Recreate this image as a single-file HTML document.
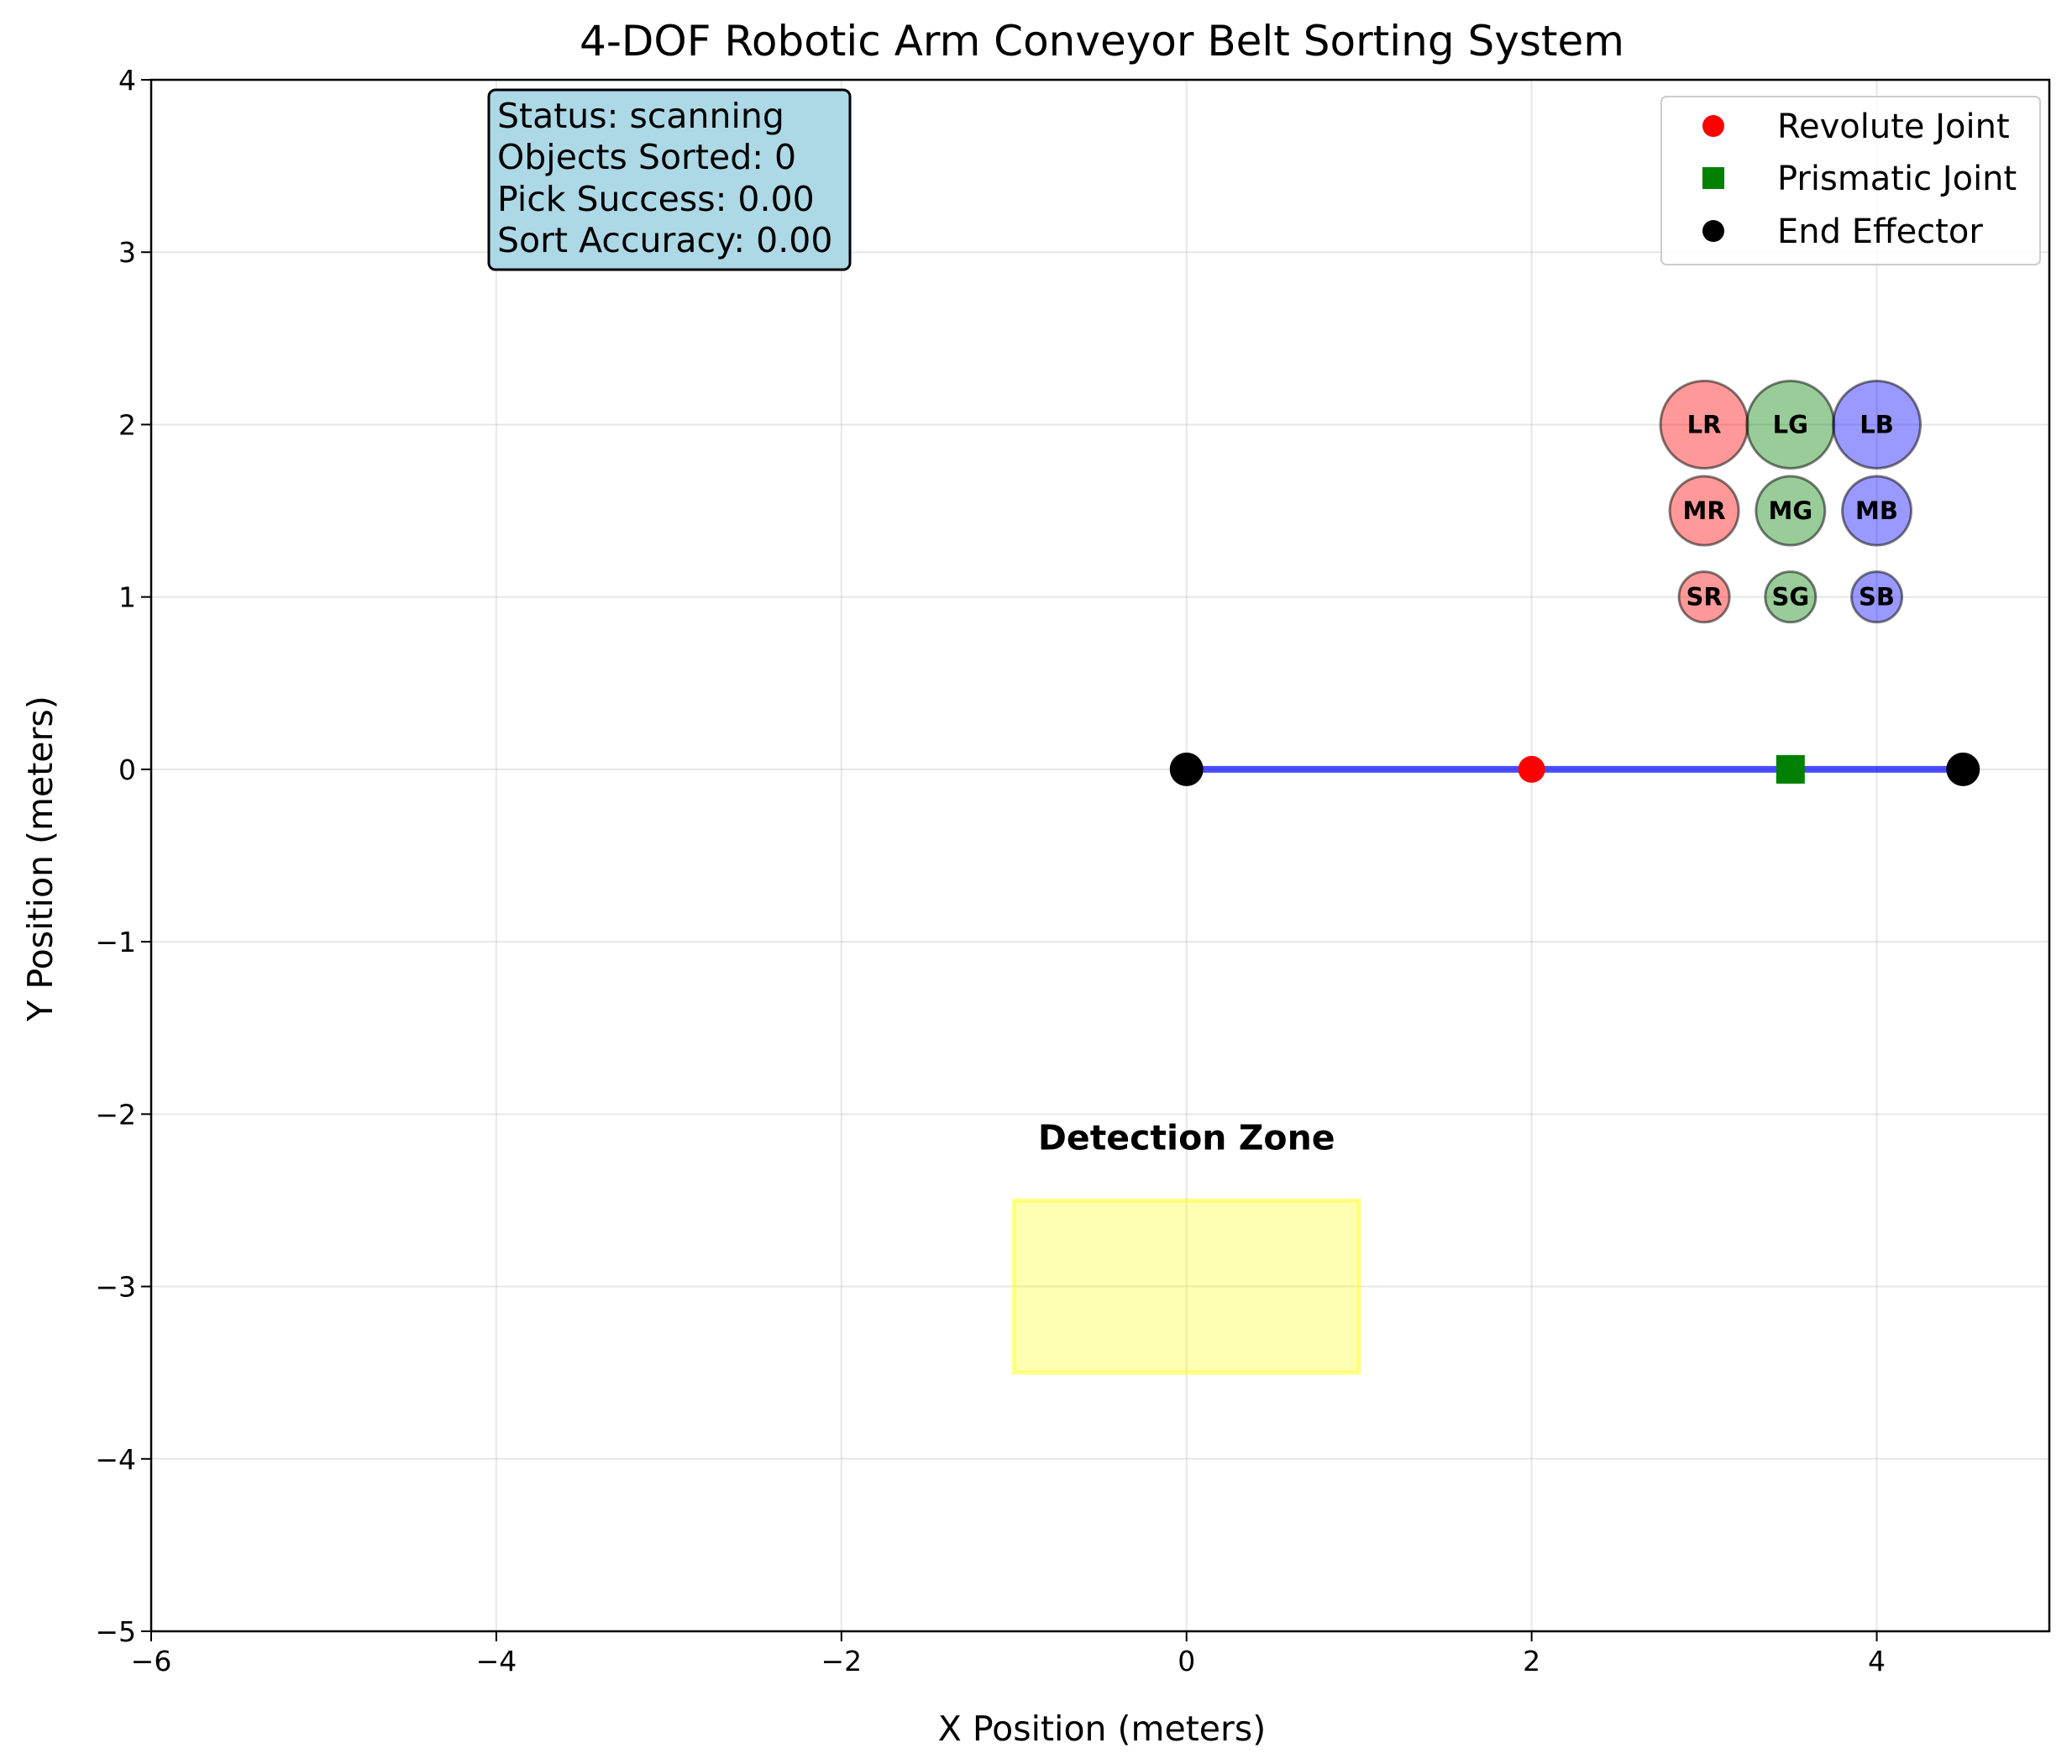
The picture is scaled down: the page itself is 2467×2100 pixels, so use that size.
<!DOCTYPE html>
<html><head><meta charset="utf-8"><style>body{margin:0;background:#fff}svg{display:block;font-family:"DejaVu Sans","Liberation Sans",sans-serif}</style></head>
<body>
<svg id="chart" width="2467" height="2100" xmlns="http://www.w3.org/2000/svg">
<rect width="2467" height="2100" fill="#fff"/>
<text x="1312" y="66" font-size="50" text-anchor="middle">4-DOF Robotic Arm Conveyor Belt Sorting System</text>
<g id="grid"></g><g id="zone"></g><g id="arm"></g><g id="objs"></g><g id="axes"></g>
<text x="1312" y="2072" font-size="41" text-anchor="middle">X Position (meters)</text>
<text transform="translate(62,1022) rotate(-90)" font-size="41" text-anchor="middle">Y Position (meters)</text>
<g>
<rect x="582" y="107" width="430" height="214" rx="8" fill="#add8e6" stroke="#000" stroke-width="3"/>
<text x="592" y="152" font-size="41">Status: scanning</text>
<text x="592" y="201" font-size="41">Objects Sorted: 0</text>
<text x="592" y="251" font-size="41">Pick Success: 0.00</text>
<text x="592" y="300" font-size="41">Sort Accuracy: 0.00</text>
</g>
<g>
<rect x="1978" y="115" width="451" height="200" rx="6" fill="#fff" fill-opacity="0.8" stroke="#ccc" stroke-width="2"/>
<circle cx="2040" cy="150" r="13" fill="red"/>
<text x="2116" y="164" font-size="40">Revolute Joint</text>
<rect x="2027" y="199" width="26" height="26" fill="green"/>
<text x="2116" y="226" font-size="40">Prismatic Joint</text>
<circle cx="2040" cy="275" r="13" fill="#000"/>
<text x="2116" y="289" font-size="40">End Effector</text>
</g>
</svg>
<script>
const xTicks=[-6,-4,-2,0,2,4];
const yTicks=[4,3,2,1,0,-1,-2,-3,-4,-5];
const armX=[0,2,3.5,4.5];
const armY=[0,0,0,0];
const objLabels=["LR","LG","LB","MR","MG","MB","SR","SG","SB"];
const objX=[3,3.5,4,3,3.5,4,3,3.5,4];
const objY=[2,2,2,1.5,1.5,1.5,1,1,1];
const objSize=[52,52,52,41,41,41,30,30,30];
const objColor=["#ff0000","#008000","#0000ff","#ff0000","#008000","#0000ff","#ff0000","#008000","#0000ff"];
const zoneX=[-1,1];
const zoneY=[-3.5,-2.5];
const L=180,R=2440,T=95,B=1942,x0=-6,x1=5,y0=-5,y1=4;
const sx=v=>L+(v-x0)/(x1-x0)*(R-L);
const sy=v=>B-(v-y0)/(y1-y0)*(B-T);
const NS="http://www.w3.org/2000/svg";
function mk(p,t,a){const e=document.createElementNS(NS,t);for(const k in a)e.setAttribute(k,a[k]);p.appendChild(e);return e;}
const G=document.getElementById('grid'),A=document.getElementById('axes'),Z=document.getElementById('zone'),AR=document.getElementById('arm'),O=document.getElementById('objs');
xTicks.forEach(v=>{
 const g=mk(G,'line',{x1:sx(v),x2:sx(v),y1:T,y2:B,stroke:'#b0b0b0','stroke-opacity':0.3,'stroke-width':2});
 
 
 mk(A,'line',{x1:sx(v),x2:sx(v),y1:B,y2:B+12,stroke:'#000','stroke-width':2});
 const t=mk(A,'text',{x:sx(v),y:B+47,'font-size':33,'text-anchor':'middle'});
 t.textContent=(v<0?'\u2212'+(-v):v);
 
 
});
yTicks.forEach(v=>{
 const g=mk(G,'line',{x1:L,x2:R,y1:sy(v),y2:sy(v),stroke:'#b0b0b0','stroke-opacity':0.3,'stroke-width':2});
 
 
 mk(A,'line',{x1:L-12,x2:L,y1:sy(v),y2:sy(v),stroke:'#000','stroke-width':2});
 const t=mk(A,'text',{x:L-18,y:sy(v)+12,'font-size':33,'text-anchor':'end'});
 t.textContent=(v<0?'\u2212'+(-v):v);
 
 
});
const fr=mk(A,'rect',{x:L,y:T,width:R-L,height:B-T,fill:'none',stroke:'#000','stroke-width':2.5});


const zr=mk(Z,'rect',{x:sx(zoneX[0]),y:sy(zoneY[1]),width:sx(zoneX[1])-sx(zoneX[0]),height:sy(zoneY[0])-sy(zoneY[1]),fill:'#ffff00','fill-opacity':0.3,stroke:'#ffff00','stroke-opacity':0.4,'stroke-width':5});


const zt=mk(Z,'text',{x:sx(0),y:sy(-2.2)+1,'font-size':41,'font-weight':'bold','text-anchor':'middle'});
zt.textContent='Detection Zone';


const ln=mk(AR,'polyline',{points:armX.map((x,i)=>sx(x)+','+sy(armY[i])).join(' '),fill:'none',stroke:'#0000ff','stroke-opacity':0.7,'stroke-width':8});


[0,3].forEach(i=>{const c=mk(AR,'circle',{cx:sx(armX[i]),cy:sy(armY[i]),r:20,fill:'#000'});
 
 });
const rj=mk(AR,'circle',{cx:sx(armX[1]),cy:sy(armY[1]),r:16,fill:'red'});


const pj=mk(AR,'rect',{x:sx(armX[2])-17,y:sy(armY[2])-17,width:34,height:34,fill:'green'});


objLabels.forEach((lb,i)=>{
 const c=mk(O,'circle',{cx:sx(objX[i]),cy:sy(objY[i]),r:objSize[i],fill:objColor[i],'fill-opacity':0.4,stroke:'#000','stroke-opacity':0.5,'stroke-width':3});
 
 
 const t=mk(O,'text',{x:sx(objX[i]),y:sy(objY[i])+10,'font-size':29,'font-weight':'bold','text-anchor':'middle'});
 t.textContent=lb;
 
 
});
</script>
</body></html>
